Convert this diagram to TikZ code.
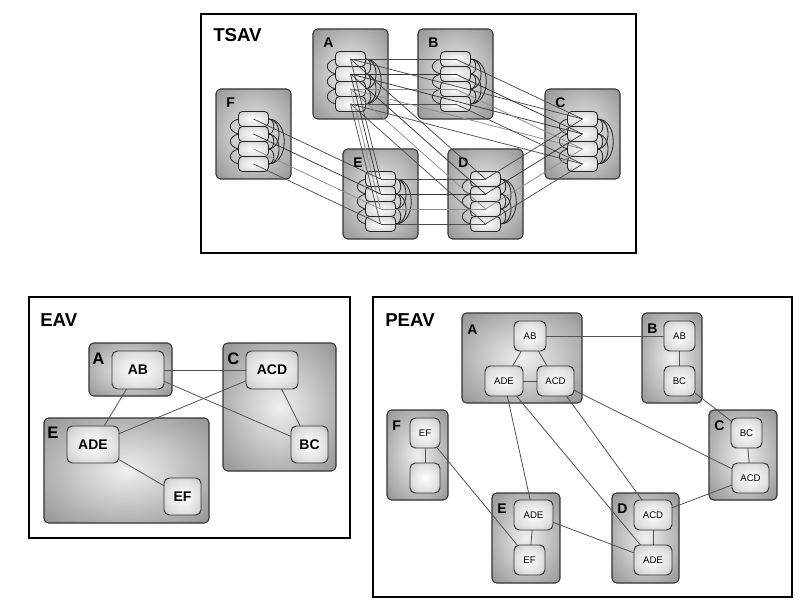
\documentclass[tikz,border=0pt]{standalone}
\usepackage{fontspec}
\setmainfont{Liberation Sans}
\usetikzlibrary{calc}
\newdimen\pxu \pxu=0.75pt
\pgfdeclareradialshading{clusshade}{\pgfpoint{0bp}{0bp}}{color(0bp)=(black!6); color(18bp)=(black!24); color(50bp)=(black!57); color(72bp)=(black!72)}
\pgfdeclareradialshading{recshade}{\pgfpoint{0bp}{0bp}}{color(0bp)=(white); color(22bp)=(black!12); color(50bp)=(black!34); color(72bp)=(black!46)}
\tikzset{
  frm/.style={draw=black, line width=1.1pt},
  clus/.style={draw=black!80, line width=0.8pt, rounded corners=3.5pt, shading=clusshade, inner sep=0pt, outer sep=0pt, anchor=north west},
  rec/.style={draw=black!85, line width=0.6pt, rounded corners=3pt, shading=recshade, inner sep=0pt, outer sep=0pt, anchor=north west, minimum width=30\pxu, minimum height=15\pxu},
  ttl/.style={font=\fontsize{14}{16}\selectfont\bfseries, anchor=base west, inner sep=0pt},
  clab/.style={font=\fontsize{10.5}{12}\selectfont\bfseries, anchor=base west, inner sep=0pt},
  elab/.style={font=\fontsize{12.5}{14}\selectfont\bfseries, anchor=base west, inner sep=0pt},
  enode/.style={draw=black!80, line width=0.7pt, rounded corners=4pt, shading=recshade, font=\fontsize{10.5}{12}\selectfont\bfseries, inner sep=0pt, outer sep=0pt, anchor=north west},
  pnode/.style={draw=black!80, line width=0.7pt, rounded corners=4pt, shading=recshade, font=\fontsize{7.2}{9}\selectfont, inner sep=0pt, outer sep=0pt, anchor=north west},
  arcln/.style={line width=0.6pt, draw=black!85},
  tl1/.style={line width=0.55pt, draw=black!72},
  tl2/.style={line width=0.55pt, draw=black!80},
  tl3/.style={line width=0.55pt, draw=black!45},
  tl4/.style={line width=0.55pt, draw=black!70},
  link/.style={line width=0.6pt, draw=black!68},
}
\newcommand{\mytclus}[4]{%
  \node[clus, minimum width=75\pxu, minimum height=90\pxu] (#1) at (#2,#3) {};
  \node[clab] (#1lab) at (#2+10,#3+19) {#4};
  \foreach \i in {1,2,3,4} {\node[rec] (#1\i) at (#2+22.5,#3+7.5+15*\i) {};}
}
\newcommand{\mytarcs}[1]{%
  \foreach \i/\j in {1/2,2/3,3/4} {
    \draw[arcln] (#1\i.west) .. controls +(-11,3) and +(-11,-3) .. (#1\j.west);
  }
  \foreach \i/\j/\c in {1/2/7,2/3/7,3/4/7,1/3/14,2/4/14,1/4/21} {
    \draw[arcln] (#1\i.east) .. controls +(\c,0) and +(\c,0) .. (#1\j.east);
  }
}
\begin{document}
\begin{tikzpicture}[x=0.75pt,y=-0.75pt]
\useasboundingbox (0,0) rectangle (809,609);
% ---------------- TSAV ----------------
\draw[frm] (201,14) rectangle (636,253);
\node[ttl] (tsavt) at (213,42) {TSAV};
\mytclus{tA}{313}{29}{A}
\mytclus{tB}{418}{29}{B}
\mytclus{tC}{545}{89}{C}
\mytclus{tF}{216}{89}{F}
\mytclus{tE}{343}{149}{E}
\mytclus{tD}{448}{149}{D}
\mytarcs{tA}
\mytarcs{tB}
\mytarcs{tC}
\mytarcs{tF}
\mytarcs{tE}
\mytarcs{tD}
\foreach \a/\b in {tA/tB, tA/tC, tA/tD, tA/tE, tB/tC, tC/tD, tD/tE, tE/tF} {
  \foreach \i in {1,2,3,4} {\draw[tl\i] (\a\i.center) -- (\b\i.center);}
}
% ---------------- EAV ----------------
\draw[frm] (29,297) rectangle (350,538);
\node[ttl] (eavt) at (40,326) {EAV};
\node[clus, minimum width=83\pxu, minimum height=53\pxu] (eA) at (89,343) {};
\node[clus, minimum width=113\pxu, minimum height=128\pxu] (eC) at (223,343) {};
\node[clus, minimum width=165\pxu, minimum height=105\pxu] (eE) at (44,418) {};
\node[elab] (eAl) at (92,364) {A};
\node[elab] (eCl) at (227,364) {C};
\node[elab] (eEl) at (47,438) {E};
\node[enode, minimum width=52\pxu, minimum height=38\pxu] (eAB) at (112,351) {AB};
\node[enode, minimum width=52\pxu, minimum height=38\pxu] (eACD) at (246,351) {ACD};
\node[enode, minimum width=37\pxu, minimum height=37\pxu] (eBC) at (291,426) {BC};
\node[enode, minimum width=52\pxu, minimum height=37\pxu] (eADE) at (67,426) {ADE};
\node[enode, minimum width=37\pxu, minimum height=37\pxu] (eEF) at (164,478) {EF};
\draw[link] (eAB) -- (eACD);
\draw[link] (eAB) -- (eBC);
\draw[link] (eAB) -- (eADE);
\draw[link] (eACD) -- (eADE);
\draw[link] (eACD) -- (eBC);
\draw[link] (eADE) -- (eEF);
% ---------------- PEAV ----------------
\draw[frm] (373,297) rectangle (792,597);
\node[ttl] (peavt) at (385,326) {PEAV};
\node[clus, minimum width=120\pxu, minimum height=90\pxu] (pA) at (462,313) {};
\node[clus, minimum width=60\pxu, minimum height=90\pxu] (pB) at (642,313) {};
\node[clus, minimum width=68\pxu, minimum height=90\pxu] (pC) at (709,410) {};
\node[clus, minimum width=61\pxu, minimum height=90\pxu] (pF) at (387,410) {};
\node[clus, minimum width=68\pxu, minimum height=90\pxu] (pE) at (492,493) {};
\node[clus, minimum width=67\pxu, minimum height=90\pxu] (pD) at (612,493) {};
\node[clab] (pAl) at (467,334) {A};
\node[clab] (pBl) at (647,333) {B};
\node[clab] (pCl) at (714,430) {C};
\node[clab] (pFl) at (392,430) {F};
\node[clab] (pEl) at (497,513) {E};
\node[clab] (pDl) at (617,513) {D};
\node[pnode, minimum width=32\pxu, minimum height=30\pxu] (pAAB) at (514,321) {AB};
\node[pnode, minimum width=38\pxu, minimum height=30\pxu] (pAADE) at (485,366) {ADE};
\node[pnode, minimum width=37\pxu, minimum height=30\pxu] (pAACD) at (537,366) {ACD};
\node[pnode, minimum width=31\pxu, minimum height=30\pxu] (pBAB) at (664,321) {AB};
\node[pnode, minimum width=31\pxu, minimum height=30\pxu] (pBBC) at (664,366) {BC};
\node[pnode, minimum width=31\pxu, minimum height=30\pxu] (pCBC) at (731,418) {BC};
\node[pnode, minimum width=37\pxu, minimum height=30\pxu] (pCACD) at (732,463) {ACD};
\node[pnode, minimum width=30\pxu, minimum height=30\pxu] (pFEF) at (410,418) {EF};
\node[pnode, minimum width=30\pxu, minimum height=30\pxu] (pFX) at (410,463) {};
\node[pnode, minimum width=39\pxu, minimum height=30\pxu] (pEADE) at (514,500) {ADE};
\node[pnode, minimum width=31\pxu, minimum height=30\pxu] (pEEF) at (514,545) {EF};
\node[pnode, minimum width=38\pxu, minimum height=30\pxu] (pDACD) at (634,500) {ACD};
\node[pnode, minimum width=38\pxu, minimum height=30\pxu] (pDADE) at (634,545) {ADE};
\draw[link] (pAAB) -- (pAADE);
\draw[link] (pAAB) -- (pAACD);
\draw[link] (pAADE) -- (pAACD);
\draw[link] (pAAB) -- (pBAB);
\draw[link] (pBAB) -- (pBBC);
\draw[link] (pBBC) -- (pCBC);
\draw[link] (pCBC) -- (pCACD);
\draw[link] (pAACD) -- (pCACD);
\draw[link] (pAACD) -- (pDACD);
\draw[link] (pAADE) -- (pEADE);
\draw[link] (pAADE) -- (pDADE);
\draw[link] (pEADE) -- (pDADE);
\draw[link] (pEADE) -- (pEEF);
\draw[link] (pDACD) -- (pDADE);
\draw[link] (pDACD) -- (pCACD);
\draw[link] (pFEF) -- (pFX);
\draw[link] (pFEF) -- (pEEF);
\end{tikzpicture}
\end{document}
